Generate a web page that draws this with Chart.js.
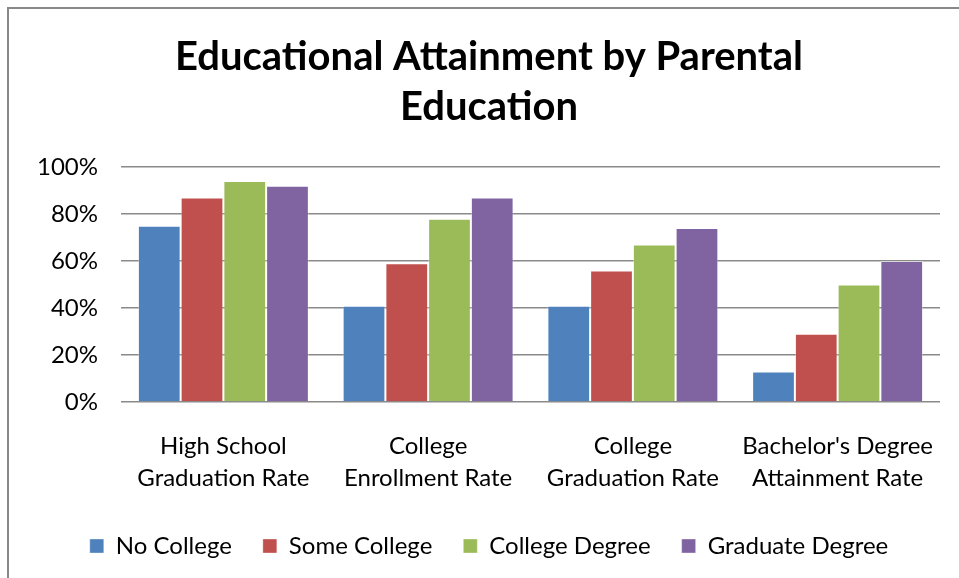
<!DOCTYPE html>
<html>
<head>
<meta charset="utf-8">
<script src="https://cdn.jsdelivr.net/npm/chart.js@4"></script>
<style>
    html, body { margin: 0; padding: 0; background: #fff; overflow: hidden; }
    #wrap { position: relative; width: 959px; height: 578px; }
    #frame { position: absolute; left: 7px; top: 7px; width: 1200px; height: 900px; border: 2px solid #888; box-sizing: border-box; }
    canvas { position: absolute; left: 0; top: 0; }
</style>
</head>
<body>
<div id="wrap">
    <div id="frame"></div>
    <canvas id="chart" width="959" height="578"></canvas>
</div>
<script>
const categories = [
    ['High School', 'Graduation Rate'],
    ['College', 'Enrollment Rate'],
    ['College', 'Graduation Rate'],
    ["Bachelor's Degree", 'Attainment Rate']
];
const noCollege = [0.75, 0.41, 0.41, 0.13];
const someCollege = [0.87, 0.59, 0.56, 0.29];
const collegeDegree = [0.94, 0.78, 0.67, 0.50];
const graduateDegree = [0.92, 0.87, 0.74, 0.60];
const yTicks = [0, 0.2, 0.4, 0.6, 0.8, 1];

const FONT = 'Lato, "Open Sans", sans-serif';

function makeSet(label, data, color) {
    return { label: label, data: data, backgroundColor: color, borderColor: 'rgba(255,255,255,0.35)', borderWidth: 1 };
}

const ctx = document.getElementById('chart').getContext('2d');
const chart = new Chart(ctx, {
    type: 'bar',
    data: {
        labels: categories,
        datasets: [
            makeSet('No College', noCollege, '#4F81BD'),
            makeSet('Some College', someCollege, '#C0504D'),
            makeSet('College Degree', collegeDegree, '#9BBB59'),
            makeSet('Graduate Degree', graduateDegree, '#8064A2')
        ]
    },
    options: {
        responsive: false,
        animation: false,
        layout: { padding: { left: 38, right: 19, top: 0, bottom: 10 } },
        datasets: { bar: { categoryPercentage: 0.835, barPercentage: 1 } },
        scales: {
            x: {
                grid: { display: false, drawTicks: false },
                border: { display: false },
                afterFit: (axis) => {
                    axis.height = 101;
                    axis.paddingLeft = 0;
                    axis.paddingRight = 0;
                },
                ticks: { color: '#000', font: { family: FONT, size: 24, lineHeight: 1.33 }, maxRotation: 0, padding: 28 }
            },
            y: {
                min: 0,
                max: 1,
                afterBuildTicks: (axis) => { axis.ticks = yTicks.map(v => ({ value: v })); },
                afterFit: (axis) => { axis.width = 83; },
                grid: { color: '#8a8a8a', lineWidth: 1.5, drawTicks: false },
                border: { display: false },
                ticks: {
                    color: '#000',
                    autoSkip: false,
                    font: { family: FONT, size: 24 },
                    padding: 23,
                    callback: (v) => Math.round(v * 100) + '%'
                }
            }
        },
        plugins: {
            title: {
                display: true,
                text: ['Educational Attainment by Parental', 'Education'],
                color: '#000',
                font: { family: FONT, size: 40, weight: 'bold', lineHeight: 1.25 },
                padding: { top: 32, bottom: 35 }
            },
            legend: {
                position: 'bottom',
                labels: {
                    color: '#000',
                    font: { family: FONT, size: 24 },
                    boxWidth: 14,
                    boxHeight: 14,
                    padding: 31
                }
            },
            tooltip: { enabled: false }
        }
    }
});
</script>
</body>
</html>
